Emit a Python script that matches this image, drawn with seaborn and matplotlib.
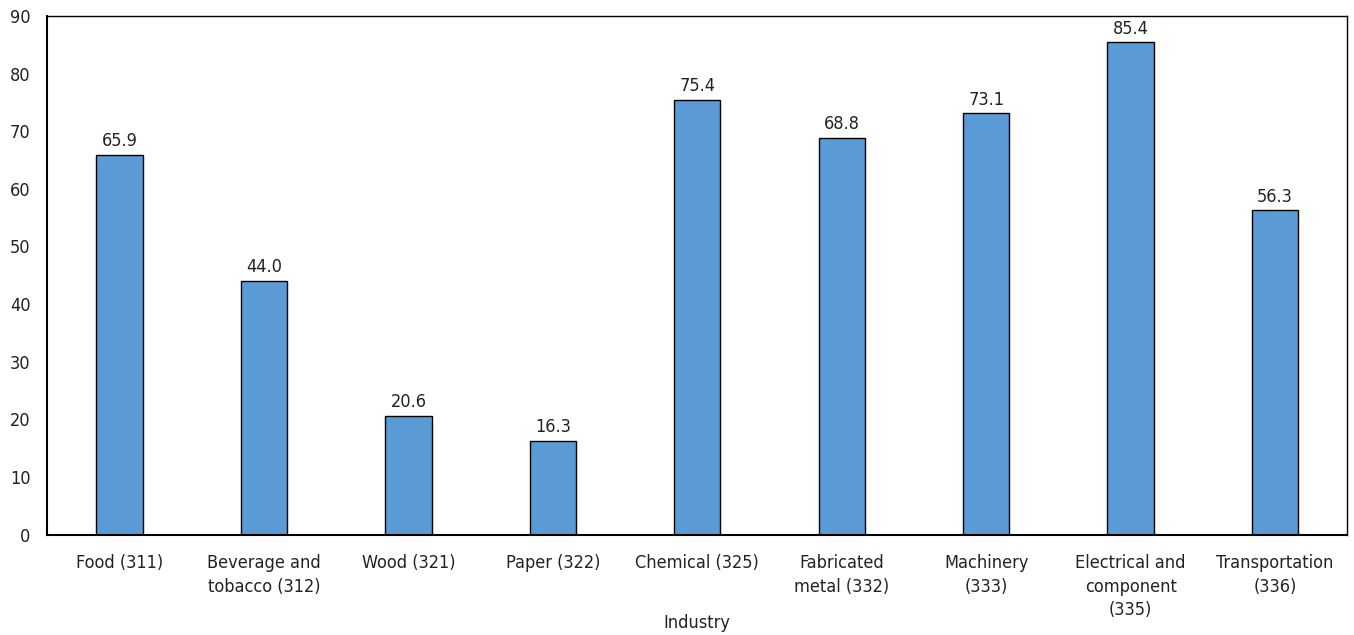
import matplotlib
matplotlib.use("Agg")
import matplotlib.pyplot as plt
from matplotlib import font_manager
import pandas as pd
import seaborn as sns

## data
industries = ["Food (311)", "Beverage and\ntobacco (312)", "Wood (321)", "Paper (322)",
              "Chemical (325)", "Fabricated\nmetal (332)", "Machinery\n(333)",
              "Electrical and\ncomponent\n(335)", "Transportation\n(336)"]
values = [65.9, 44.0, 20.6, 16.3, 75.4, 68.8, 73.1, 85.4, 56.3]

df = pd.DataFrame({"Industry": industries, "value": values})

## global settings
sns.set_style("white")
names = {f.name for f in font_manager.fontManager.ttflist}
condensed = [f for f in font_manager.fontManager.ttflist
             if f.name == "DejaVu Sans" and f.stretch == "condensed"]
if "Liberation Sans Narrow" in names:
    plt.rcParams['font.family'] = ['Liberation Sans Narrow', 'DejaVu Sans']
elif condensed:
    plt.rcParams['font.family'] = ['DejaVu Sans']
    plt.rcParams['font.stretch'] = 'condensed'
else:
    plt.rcParams['font.family'] = ['Liberation Sans', 'DejaVu Sans']
fontsize = 13
textcolor = "#222222"

fig, ax = plt.subplots(figsize=(13.54, 6.35), dpi=100)
fig.subplots_adjust(left=0.035, right=0.995, top=0.975, bottom=0.158)

sns.barplot(data=df, x="Industry", y="value", color="#5B9BD5", width=0.32,
            edgecolor="black", linewidth=1.0, saturation=1, ax=ax)

## value labels
for p, v in zip(ax.patches, values):
    ax.text(p.get_x() + p.get_width() / 2, v + 0.8, f"{v:.1f}",
            ha="center", va="bottom", fontsize=fontsize, color=textcolor)

ax.set_ylim(0, 90)
ax.set_yticks(range(0, 91, 10))
ax.set_xlim(-0.5, len(industries) - 0.5)
ax.set_ylabel("")
ax.tick_params(axis="both", labelsize=fontsize, length=0, colors=textcolor)
ax.tick_params(axis="x", pad=14)
ax.tick_params(axis="y", pad=12)
for lbl in ax.get_xticklabels():
    lbl.set_linespacing(1.4)

## axis title
ax.set_xlabel("Industry", fontsize=fontsize, color=textcolor)
ax.xaxis.set_label_coords(0.5, -0.152)

for s in ax.spines.values():
    s.set_color("black")
    s.set_linewidth(1.0)
ax.spines["left"].set_linewidth(1.5)
ax.spines["bottom"].set_linewidth(1.5)

fig.savefig("out.png", dpi=100)
